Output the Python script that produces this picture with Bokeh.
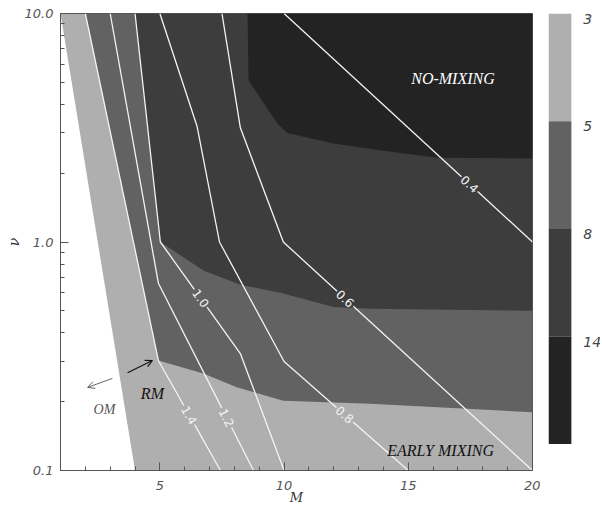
import numpy as np
from bokeh.plotting import figure
from bokeh.models import (Range1d, FixedTicker, CustomJSTickFormatter, Arrow,
                          OpenHead, ColumnDataSource)
from bokeh.layouts import row
from bokeh.embed import file_html
from bokeh.resources import INLINE
from bokeh.core.properties import value

# ---------------- data ----------------
x_major_ticks = [5, 10, 15, 20]
x_minor_ticks = [2, 3, 4, 6, 7, 8, 9, 11, 12, 13, 14, 16, 17, 18, 19]
y_major_ticks = [0.1, 1.0, 10.0]
y_minor_ticks = [0.2, 0.3, 0.4, 0.5, 0.6, 0.7, 0.8, 0.9,
                 2, 3, 4, 5, 6, 7, 8, 9]

level_labels = ["3", "5", "8", "14"]
level_colors = ["#afafaf", "#626262", "#3d3d3d", "#232323"]

# region boundaries (M, nu)
om_M = [1.0, 4.0, 1.0]
om_nu = [10.0, 0.1, 0.1]
l2_M = [2.0, 4.94, 6.75, 8.12, 9.97, 13.47, 20.0, 20.0]
l2_nu = [10.0, 0.303, 0.266, 0.231, 0.202, 0.196, 0.18, 10.0]
l3_M = [4.0, 5.02, 6.75, 8.24, 9.85, 11.99, 13.47, 20.0, 20.0]
l3_nu = [10.0, 1.0, 0.75, 0.65, 0.60, 0.52, 0.51, 0.50, 10.0]
l4_M = [8.53, 8.57, 9.73, 10.13, 11.99, 14.0, 16.17, 20.0, 20.0]
l4_nu = [10.0, 5.1, 3.3, 3.0, 2.7, 2.51, 2.34, 2.32, 10.0]

# contour lines
contour_labels = ["1.4", "1.2", "1.0", "0.8", "0.6", "0.4"]
c14_M, c14_nu = [2.0, 4.94, 7.44], [10.0, 0.303, 0.1]
c12_M, c12_nu = [3.0, 4.94, 8.77], [10.0, 0.66, 0.1]
c10_M, c10_nu = [4.0, 5.02, 8.24, 10.0], [10.0, 1.0, 0.325, 0.1]
c08_M, c08_nu = [5.0, 6.5, 7.4, 10.0, 15.0], [10.0, 3.2, 1.0, 0.30, 0.1]
c06_M, c06_nu = [7.5, 8.24, 9.97, 20.0], [10.0, 3.16, 1.0, 0.1]
c04_M, c04_nu = [10.0, 20.0], [10.0, 1.0]
label_M = [6.15, 7.72, 6.63, 12.47, 12.47, 17.42]
label_nu = [0.174, 0.171, 0.566, 0.177, 0.566, 1.77]

# annotations
ann_text = ["NO-MIXING", "EARLY MIXING", "RM", "OM"]
ann_M = [16.80, 16.30, 4.70, 2.77]
ann_nu = [5.17, 0.122, 0.218, 0.185]
ann_color = ["#ffffff", "#111111", "#111111", "#555555"]
ann_size = ["16px", "16px", "16px", "14px"]

rm_arrow_M = [3.70, 4.70]
rm_arrow_nu = [0.268, 0.303]
om_arrow_M = [3.09, 2.09]
om_arrow_nu = [0.253, 0.231]

# ---------------- helpers (screen geometry for label gaps) ----------------
FW, FH = 472, 457


def to_px(M, nu):
    M = np.asarray(M, float)
    nu = np.asarray(nu, float)
    return (M - 1) / 19 * FW, (1 - np.log10(nu)) / 2 * FH


def from_px(px, py):
    px = np.asarray(px, float)
    py = np.asarray(py, float)
    return 1 + px / FW * 19, 10 ** (1 - 2 * py / FH)


def split_at_label(M, nu, lM, lnu, gap=11):
    X, Y = to_px(M, nu)
    lx, ly = to_px(lM, lnu)
    seg = np.hypot(np.diff(X), np.diff(Y))
    cum = np.concatenate([[0], np.cumsum(seg)])
    best = None
    for i in range(len(X) - 1):
        dx, dy = X[i + 1] - X[i], Y[i + 1] - Y[i]
        t = ((lx - X[i]) * dx + (ly - Y[i]) * dy) / (dx * dx + dy * dy)
        t = min(max(t, 0.0), 1.0)
        px, py = X[i] + t * dx, Y[i] + t * dy
        d = np.hypot(px - lx, py - ly)
        if best is None or d < best[0]:
            best = (d, i, t, px, py, dx, dy)
    _, i, t, px, py, dx, dy = best
    s0 = cum[i] + t * seg[i]

    def point_at(s):
        j = int(np.searchsorted(cum, s) - 1)
        j = min(max(j, 0), len(seg) - 1)
        tt = (s - cum[j]) / seg[j]
        return X[j] + tt * (X[j + 1] - X[j]), Y[j] + tt * (Y[j + 1] - Y[j])

    a = point_at(s0 - gap)
    b = point_at(s0 + gap)
    ax_ = list(X[cum < s0 - gap]) + [a[0]]
    ay_ = list(Y[cum < s0 - gap]) + [a[1]]
    bx_ = [b[0]] + list(X[cum > s0 + gap])
    by_ = [b[1]] + list(Y[cum > s0 + gap])
    pa = from_px(ax_, ay_)
    pb = from_px(bx_, by_)
    lab = from_px(px, py)
    ang = float(np.arctan2(-dy, dx))
    return [list(pa[0]), list(pb[0])], [list(pa[1]), list(pb[1])], float(lab[0]), float(lab[1]), ang


# ---------------- main figure ----------------
p = figure(x_range=Range1d(1, 20), y_range=Range1d(0.1, 10), y_axis_type="log",
           frame_width=FW, frame_height=FH,
           min_border_left=60, min_border_right=8, min_border_top=13, min_border_bottom=0,
           output_backend="svg", toolbar_location=None,
           background_fill_color=level_colors[0], border_fill_color="white")
p.xgrid.visible = False
p.ygrid.visible = False
p.outline_line_color = "#555555"

# filled regions (layered)
p.patches(xs=[om_M], ys=[om_nu], fill_color="white", line_color=None)
p.patches(xs=[l2_M, l3_M, l4_M], ys=[l2_nu, l3_nu, l4_nu],
          fill_color=level_colors[1:], line_color=None)

# contour lines with gaps for labels
lines = [(c14_M, c14_nu), (c12_M, c12_nu), (c10_M, c10_nu),
         (c08_M, c08_nu), (c06_M, c06_nu), (c04_M, c04_nu)]
xs_all, ys_all = [], []
lx, ly, la = [], [], []
for (M, nu), lm, ln in zip(lines, label_M, label_nu):
    xs, ys, x0, y0, ang = split_at_label(M, nu, lm, ln)
    xs_all += xs
    ys_all += ys
    lx.append(x0)
    ly.append(y0)
    la.append(ang)
p.multi_line(xs=xs_all, ys=ys_all, line_color="#f4f4f4", line_width=1.3)
lab_src = ColumnDataSource(dict(x=lx, y=ly, text=contour_labels, angle=la))
p.text(x="x", y="y", text="text", angle="angle", source=lab_src,
       text_color="#f4f4f4", text_font=value("DejaVu Sans"), text_font_size="12px",
       text_align="center", text_baseline="middle")

# region annotations
ann_src = ColumnDataSource(dict(x=ann_M, y=ann_nu, text=ann_text,
                                color=ann_color, size=ann_size))
p.text(x="x", y="y", text="text", source=ann_src, text_color="color",
       text_font_size="size", text_font=value("Liberation Serif"),
       text_font_style="italic", text_align="center", text_baseline="middle")

p.add_layout(Arrow(end=OpenHead(size=7, line_color="#111111", line_width=1.2),
                   x_start=rm_arrow_M[0], y_start=rm_arrow_nu[0],
                   x_end=rm_arrow_M[1], y_end=rm_arrow_nu[1],
                   line_color="#111111", line_width=1.2))
p.add_layout(Arrow(end=OpenHead(size=7, line_color="#555555", line_width=0.9),
                   x_start=om_arrow_M[0], y_start=om_arrow_nu[0],
                   x_end=om_arrow_M[1], y_end=om_arrow_nu[1],
                   line_color="#555555", line_width=0.9))

# axes
for ax in (p.xaxis[0], p.yaxis[0]):
    ax.axis_line_color = "#555555"
    ax.major_tick_line_color = "#555555"
    ax.minor_tick_line_color = "#555555"
    ax.major_tick_in = 8
    ax.major_tick_out = 0
    ax.minor_tick_in = 4
    ax.minor_tick_out = 0
    ax.major_label_text_font = "DejaVu Sans"
    ax.major_label_text_font_style = "italic"
    ax.major_label_text_color = "#555555"
    ax.major_label_text_font_size = "13px"
    ax.axis_label_text_font = "DejaVu Serif"
    ax.axis_label_text_font_style = "italic"
    ax.axis_label_text_color = "#333333"
    ax.axis_label_text_font_size = "13px"

p.xaxis.ticker = FixedTicker(ticks=x_major_ticks, minor_ticks=x_minor_ticks)
p.xaxis.axis_label = "M"
p.xaxis.major_label_standoff = 10
p.xaxis.axis_label_standoff = -3

p.yaxis.ticker = FixedTicker(ticks=y_major_ticks, minor_ticks=y_minor_ticks)
p.yaxis.formatter = CustomJSTickFormatter(code="return tick.toFixed(1);")
p.yaxis.axis_label = "ν"
p.yaxis.axis_label_text_font_size = "14px"
p.yaxis.major_label_standoff = 7
p.yaxis.axis_label_standoff = 0

# ---------------- colour bar ----------------
cb = figure(x_range=Range1d(0, 1), y_range=Range1d(0, 4),
            frame_width=52, frame_height=431,
            min_border_left=8, min_border_right=0, min_border_top=13, min_border_bottom=0,
            output_backend="svg", toolbar_location=None,
            x_axis_location=None, y_axis_location=None,
            outline_line_color=None, border_fill_color="white",
            background_fill_color="white")
cb.xgrid.visible = False
cb.ygrid.visible = False
n = len(level_labels)
seg_top = [n - i for i in range(n)]
seg_bot = [n - i - 1 for i in range(n)]
cb.quad(left=0, right=0.44, bottom=seg_bot, top=seg_top,
        fill_color=level_colors, line_color=None)
cb.text(x=[0.67] * n, y=seg_top, text=level_labels, text_color="#444444",
        text_font=value("DejaVu Sans"), text_font_style="italic",
        text_font_size="14px", text_align="left", text_baseline="top")

layout = row(p, cb)
open("out.html", "w").write(file_html(layout, INLINE))
